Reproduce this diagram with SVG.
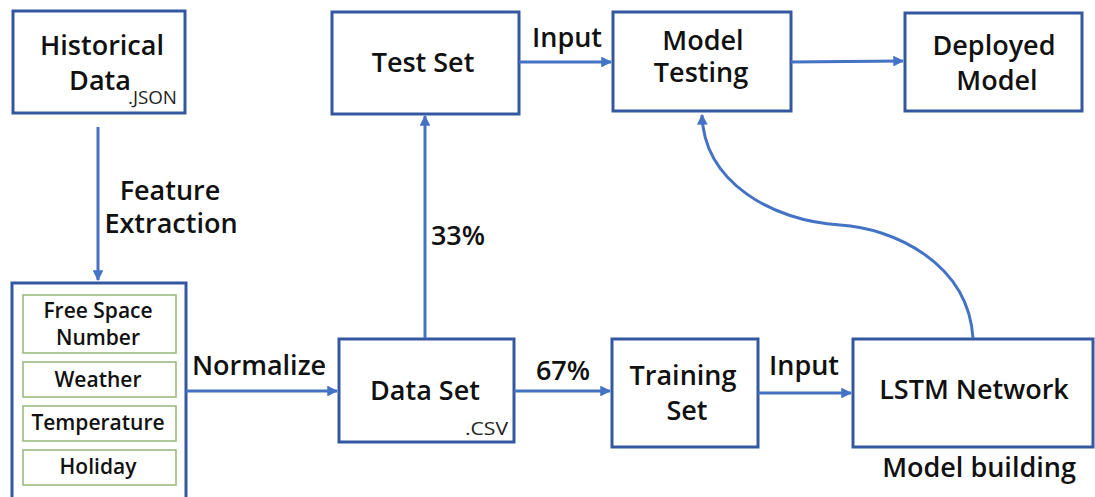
<svg xmlns="http://www.w3.org/2000/svg" width="1095" height="497" viewBox="0 0 1095 497">
<defs>
<style>
.box{fill:#fff;stroke:#3458A0;stroke-width:3}
.feat{fill:#fff;stroke:#9BBB7E;stroke-width:1.6}
.t{font-family:"Open Sans","Noto Sans",sans-serif;font-weight:600;font-size:27px;fill:#111;text-anchor:middle}
.s{font-family:"Open Sans","Noto Sans",sans-serif;font-weight:600;font-size:21px;fill:#111;text-anchor:middle}
.sub{font-family:"Open Sans","Noto Sans",sans-serif;font-weight:400;font-size:18px;fill:#222}
.c{fill:none;stroke:#4472C4;stroke-width:3}
</style>
<marker id="ah" viewBox="0 0 10 10" refX="9" refY="5" markerWidth="3.6" markerHeight="3.6" orient="auto" markerUnits="strokeWidth">
<path d="M0,0 L10,5 L0,10 Z" fill="#4472C4"/>
</marker>
</defs>

<g id="historical-data">
<rect class="box" x="13" y="11" width="172" height="102"/>
<text class="t" x="102" y="55">Historical</text>
<text class="t" x="100" y="90">Data</text>
<text class="sub" x="128" y="104" textLength="49" lengthAdjust="spacingAndGlyphs">.JSON</text>
</g>

<g id="features">
<rect class="box" x="12" y="283" width="174" height="222"/>
<rect class="feat" x="23" y="295" width="153" height="58"/>
<text class="s" x="98" y="318">Free Space</text>
<text class="s" x="98" y="345">Number</text>
<rect class="feat" x="23" y="362" width="153" height="35"/>
<text class="s" x="98" y="387">Weather</text>
<rect class="feat" x="23" y="406" width="153" height="35"/>
<text class="s" x="98" y="430">Temperature</text>
<rect class="feat" x="23" y="450" width="153" height="35"/>
<text class="s" x="98" y="474">Holiday</text>
</g>

<g id="data-set">
<rect class="box" x="339" y="339" width="175" height="103"/>
<text class="t" x="425" y="400">Data Set</text>
<text class="sub" x="465" y="435" textLength="43" lengthAdjust="spacingAndGlyphs">.CSV</text>
</g>

<g id="test-set">
<rect class="box" x="332" y="12" width="187" height="102"/>
<text class="t" x="423" y="72">Test Set</text>
</g>

<g id="model-testing">
<rect class="box" x="613" y="12" width="178" height="99"/>
<text class="t" x="703" y="50">Model</text>
<text class="t" x="701" y="82">Testing</text>
</g>

<g id="deployed-model">
<rect class="box" x="905" y="13" width="177" height="98"/>
<text class="t" x="994" y="55">Deployed</text>
<text class="t" x="997" y="90">Model</text>
</g>

<g id="training-set">
<rect class="box" x="612" y="339" width="146" height="108"/>
<text class="t" x="683" y="385">Training</text>
<text class="t" x="687" y="420">Set</text>
</g>

<g id="lstm-network">
<rect class="box" x="853" y="339" width="240" height="108"/>
<text class="t" x="974" y="399">LSTM Network</text>
<text class="t" x="979" y="477">Model building</text>
</g>

<g id="connectors">
<line class="c" x1="98" y1="127" x2="98" y2="280" marker-end="url(#ah)"/>
<text class="t" x="170" y="200">Feature</text>
<text class="t" x="171" y="233">Extraction</text>

<line class="c" x1="186" y1="391" x2="337" y2="391" marker-end="url(#ah)"/>
<text class="t" x="259" y="375">Normalize</text>

<line class="c" x1="425" y1="338" x2="425" y2="116" marker-end="url(#ah)"/>
<text class="t" x="458" y="245">33%</text>

<line class="c" x1="514" y1="391" x2="610" y2="391" marker-end="url(#ah)"/>
<text class="t" x="563" y="380">67%</text>

<line class="c" x1="519" y1="62" x2="611" y2="62" marker-end="url(#ah)"/>
<text class="t" x="567" y="47">Input</text>

<line class="c" x1="791" y1="62" x2="903" y2="61" marker-end="url(#ah)"/>

<line class="c" x1="758" y1="393" x2="851" y2="393" marker-end="url(#ah)"/>
<text class="t" x="804" y="375">Input</text>

<path class="c" d="M973,338 C968,262 892,228 840,225 C772,221 704,182 702,115" marker-end="url(#ah)"/>
</g>
</svg>
